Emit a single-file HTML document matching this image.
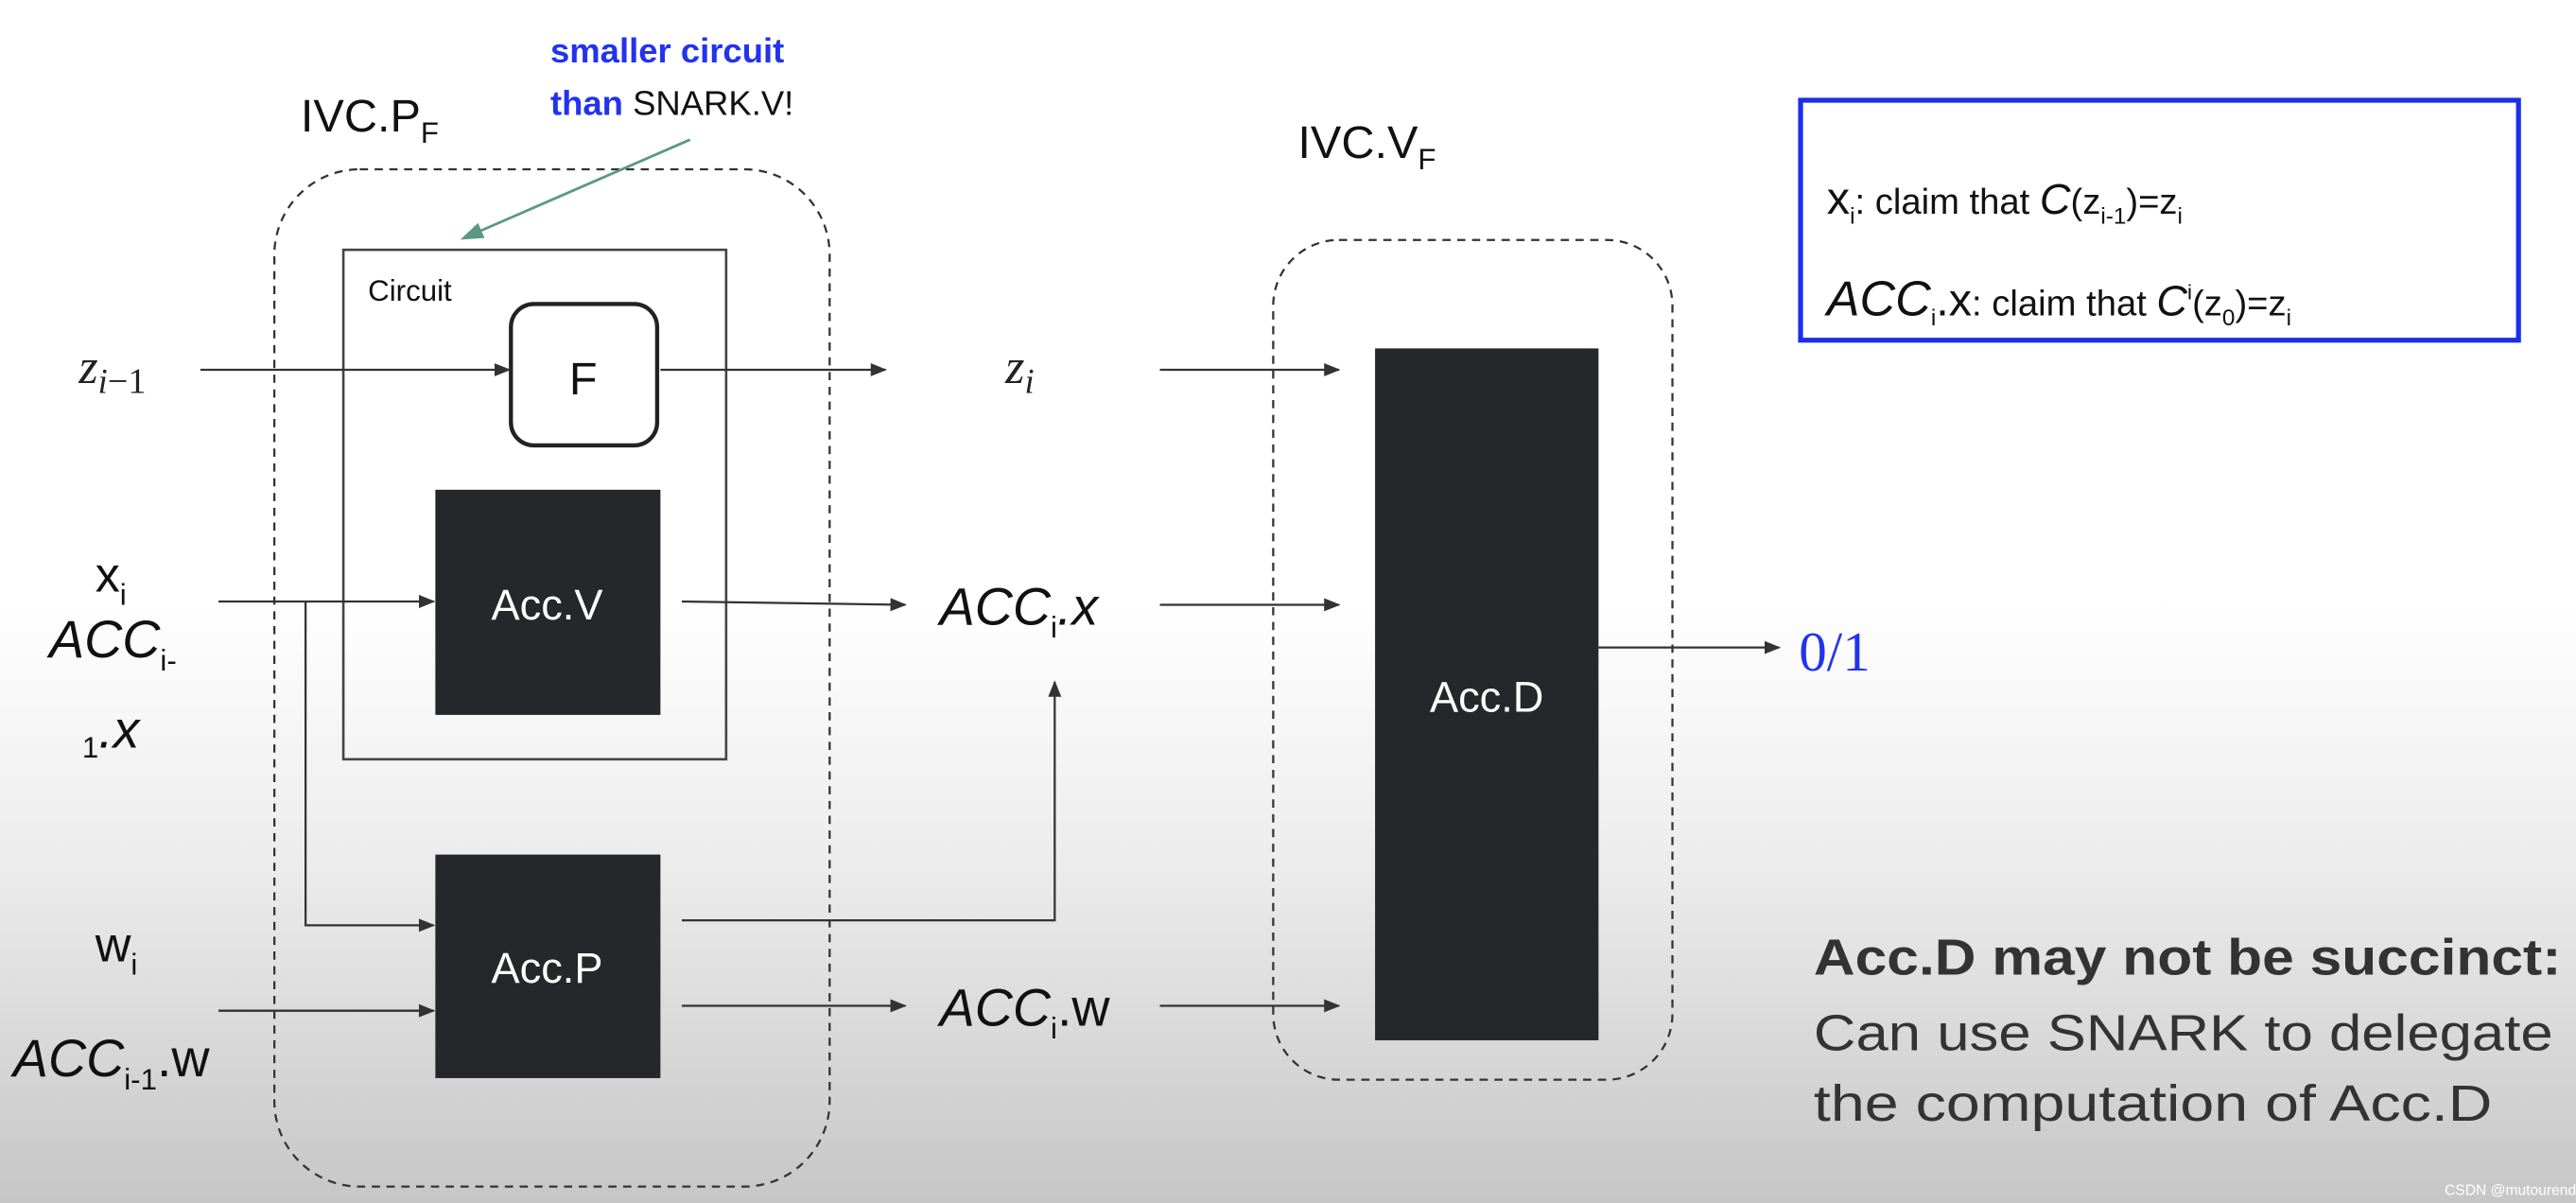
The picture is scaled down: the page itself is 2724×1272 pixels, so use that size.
<!DOCTYPE html>
<html><head><meta charset="utf-8"><style>
html,body{margin:0;padding:0;}
body{width:2724px;height:1272px;overflow:hidden;}
svg{display:block}
.c{font-family:"Liberation Sans",sans-serif;}
.i{font-family:"Liberation Sans",sans-serif;font-style:italic;}
.m{font-family:"Liberation Serif",serif;font-style:italic;}
</style></head><body>
<svg width="2724" height="1272" viewBox="0 0 1568 732" preserveAspectRatio="none" xmlns="http://www.w3.org/2000/svg">
<defs>
<linearGradient id="bg" x1="0" y1="0" x2="0" y2="1">
<stop offset="0" stop-color="#ffffff"/><stop offset="0.5" stop-color="#ffffff"/><stop offset="0.72" stop-color="#ececec"/><stop offset="1" stop-color="#c6c6c6"/>
</linearGradient>
<marker id="a" markerWidth="10" markerHeight="8" refX="9" refY="4" orient="auto" markerUnits="userSpaceOnUse"><path d="M0,0 L10,4 L0,8 z" fill="#333"/></marker>
<marker id="g" markerWidth="14" markerHeight="10" refX="12" refY="5" orient="auto" markerUnits="userSpaceOnUse"><path d="M0,0 L14,5 L0,10 z" fill="#5a9a80"/></marker>
</defs>
<rect width="1568" height="732" fill="url(#bg)"/>
<rect x="167" y="103" width="338" height="619" rx="52" fill="none" stroke="#333" stroke-width="1.3" stroke-dasharray="5,4"/>
<rect x="775" y="146" width="243" height="511" rx="40" fill="none" stroke="#333" stroke-width="1.3" stroke-dasharray="5,4"/>
<rect x="209" y="152" width="233" height="310" fill="none" stroke="#444" stroke-width="1.5"/>
<text x="224" y="183" class="c" font-size="18" fill="#111">Circuit</text>
<rect x="311" y="185" width="89" height="86" rx="14" fill="#fff" stroke="#222" stroke-width="2.5"/>
<text x="355" y="240" class="c" font-size="28" text-anchor="middle" fill="#111">F</text>
<rect x="265" y="298" width="137" height="137" fill="#26272a"/>
<text x="333" y="377" class="c" font-size="26" text-anchor="middle" fill="#fff">Acc.V</text>
<rect x="265" y="520" width="137" height="136" fill="#26272a"/>
<text x="333" y="598" class="c" font-size="26" text-anchor="middle" fill="#fff">Acc.P</text>
<rect x="837" y="212" width="136" height="421" fill="#26272a"/>
<text x="905" y="433" class="c" font-size="26" text-anchor="middle" fill="#fff">Acc.D</text>
<g stroke="#333" stroke-width="1.3" fill="none">
<line x1="122" y1="225" x2="310" y2="225" marker-end="url(#a)"/>
<line x1="402" y1="225" x2="539" y2="225" marker-end="url(#a)"/>
<line x1="706" y1="225" x2="815" y2="225" marker-end="url(#a)"/>
<line x1="133" y1="366" x2="264" y2="366" marker-end="url(#a)"/>
<polyline points="186,366 186,563 264,563" marker-end="url(#a)"/>
<line x1="415" y1="366" x2="551" y2="368" marker-end="url(#a)"/>
<line x1="706" y1="368" x2="815" y2="368" marker-end="url(#a)"/>
<polyline points="415,560 642,560 642,415" marker-end="url(#a)"/>
<line x1="133" y1="615" x2="264" y2="615" marker-end="url(#a)"/>
<line x1="415" y1="612" x2="551" y2="612" marker-end="url(#a)"/>
<line x1="706" y1="612" x2="815" y2="612" marker-end="url(#a)"/>
<line x1="973" y1="394" x2="1083" y2="394" marker-end="url(#a)"/>
</g>
<line x1="420" y1="85" x2="282" y2="145" stroke="#5a9a80" stroke-width="1.6" marker-end="url(#g)"/>
<text x="48" y="233" class="m" font-size="30" fill="#222">z<tspan font-size="21" dy="6">i</tspan><tspan font-style="normal" font-size="22">−1</tspan></text>
<text x="612" y="233" class="m" font-size="30" fill="#222">z<tspan font-size="21" dy="6">i</tspan></text>
<text x="58" y="360" class="c" font-size="30" fill="#111">x<tspan font-size="18" dy="8">i</tspan></text>
<text x="30" y="400" class="i" font-size="32" fill="#111">ACC<tspan font-size="18" dy="8" font-style="normal">i-</tspan></text>
<text x="50" y="455" class="i" font-size="32" fill="#111"><tspan font-size="18" dy="6" font-style="normal">1</tspan><tspan dy="-6">.x</tspan></text>
<text x="58" y="585" class="c" font-size="30" fill="#111">w<tspan font-size="18" dy="8">i</tspan></text>
<text x="8" y="655" class="i" font-size="32" fill="#111">ACC<tspan font-size="18" dy="8" font-style="normal">i-1</tspan><tspan dy="-8" font-style="normal">.w</tspan></text>
<text x="572" y="380" class="i" font-size="32" fill="#111">ACC<tspan font-size="18" dy="8" font-style="normal">i</tspan><tspan dy="-8">.x</tspan></text>
<text x="572" y="624" class="i" font-size="32" fill="#111">ACC<tspan font-size="18" dy="8" font-style="normal">i</tspan><tspan dy="-8" font-style="normal">.w</tspan></text>
<text x="183" y="80" class="c" font-size="28" fill="#111">IVC.P<tspan font-size="18" dy="7">F</tspan></text>
<text x="790" y="96" class="c" font-size="28" fill="#111">IVC.V<tspan font-size="18" dy="7">F</tspan></text>
<text x="335" y="38" class="c" font-size="21" font-weight="bold" fill="#2233ee">smaller circuit</text>
<text x="335" y="70" class="c" font-size="21" fill="#2233ee"><tspan font-weight="bold">than</tspan> <tspan fill="#111">SNARK.V!</tspan></text>
<text x="1095" y="408" font-family="Liberation Serif,serif" font-size="34" fill="#2233ee">0/1</text>
<rect x="1096" y="61" width="437" height="146" fill="#fff" stroke="#1c2ee6" stroke-width="3"/>
<text x="1112" y="130" class="c" font-size="22" fill="#111"><tspan font-size="28">x</tspan><tspan font-size="14" dy="6">i</tspan><tspan dy="-6">: claim that </tspan><tspan font-style="italic" font-size="26">C</tspan>(z<tspan font-size="14" dy="6">i-1</tspan><tspan dy="-6">)=z</tspan><tspan font-size="14" dy="6">i</tspan></text>
<text x="1112" y="192" class="c" font-size="22" fill="#111"><tspan font-size="30" font-style="italic">ACC</tspan><tspan font-size="14" dy="6">i</tspan><tspan dy="-6" font-size="28">.x</tspan>: claim that <tspan font-style="italic" font-size="26">C</tspan><tspan font-size="13" dy="-10">i</tspan><tspan dy="10">(z</tspan><tspan font-size="14" dy="6">0</tspan><tspan dy="-6">)=z</tspan><tspan font-size="14" dy="6">i</tspan></text>
<text x="1104" y="593" class="c" font-size="31" font-weight="bold" fill="#333" textLength="455" lengthAdjust="spacingAndGlyphs">Acc.D may not be succinct:</text>
<text x="1104" y="639" class="c" font-size="31" fill="#333" textLength="450" lengthAdjust="spacingAndGlyphs">Can use SNARK to delegate</text>
<text x="1104" y="682" class="c" font-size="31" fill="#333" textLength="413" lengthAdjust="spacingAndGlyphs">the computation of Acc.D</text>
<text x="1488" y="727" class="c" font-size="9" fill="#fff">CSDN @mutourend</text>
</svg>
</body></html>
